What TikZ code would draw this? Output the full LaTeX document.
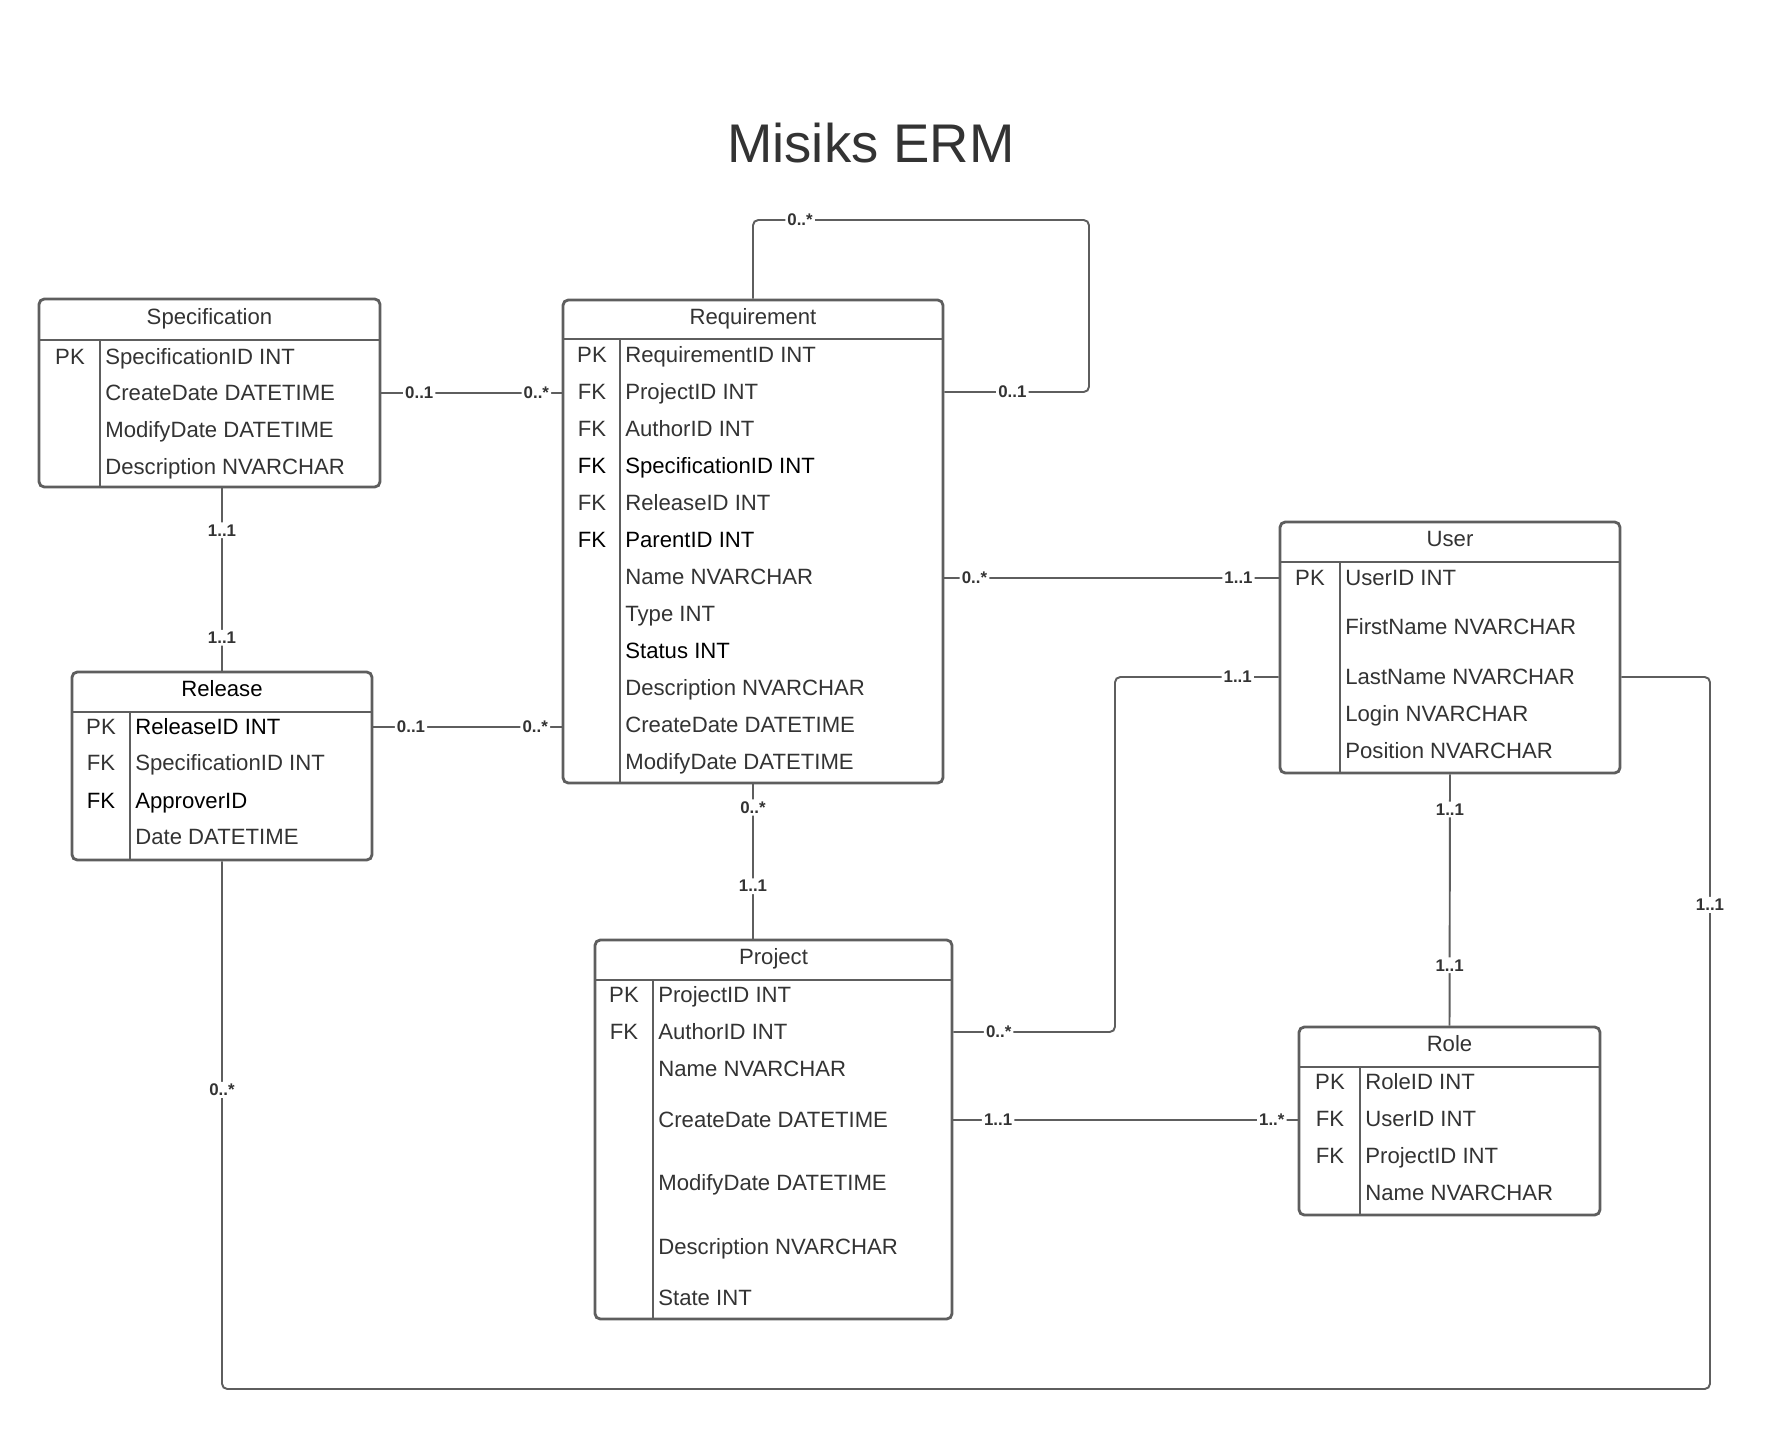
\documentclass[tikz,border=0pt]{standalone}
\usepackage{fontspec}
\setmainfont{Liberation Sans}
\usepackage{tikz}
\usetikzlibrary{fit}
\definecolor{inkgray}{HTML}{333333}
\definecolor{edgegray}{HTML}{5E5E5E}
\tikzset{
  entbox/.style   = {draw=edgegray, line width=1.6pt, rounded corners=3pt, inner sep=0pt},
  entline/.style  = {edgegray, line width=1.6pt},
  headtxt/.style  = {inner sep=0pt, text height=9pt, text depth=0pt, font=\fontsize{12.6}{14}\selectfont},
  keytxt/.style   = {inner sep=0pt, text height=9pt, text depth=0pt, font=\fontsize{12.6}{14}\selectfont},
  coltxt/.style   = {anchor=west, inner sep=0pt, text height=9pt, text depth=0pt, font=\fontsize{12.6}{14}\selectfont},
  relline/.style  = {edgegray, line width=1.1pt, rounded corners=3pt},
  mult/.style     = {fill=white, inner sep=1.2pt, text=inkgray, font=\bfseries\fontsize{9.6}{11}\selectfont},
  titletxt/.style = {inner sep=0pt, text height=22.2pt, text depth=0pt, text=inkgray, font=\fontsize{31}{36}\selectfont}
}
% #1 title colour, #2 name, #3 title, #4-#7 left/top/right/bottom, #8 header line, #9 key divider
\newcommand{\entity}[9][inkgray]{%
  \node[entbox, fit={(#4,#5) (#6,#7)}] (#2) {};
  \draw[entline] (#4,#8) -- (#6,#8);
  \draw[entline] (#9,#8) -- (#9,#7);
  \node[headtxt, text=#1] (#2-title) at ({(#4+#6)/2},{(#5+#8)/2-3}) {#3};
}
% #1 colour, #2 name, #3 key x, #4 column x, #5 y, #6 key, #7 column
\newcommand{\field}[7][inkgray]{%
  \node[keytxt, text=#1] (#2-k) at (#3,#5) {#6};
  \node[coltxt, text=#1] (#2) at (#4,#5) {#7};
}

\begin{document}
\begin{tikzpicture}[x=0.02cm, y=-0.02cm]
  \useasboundingbox[fill=white] (0,0) rectangle (1765,1431);
  \node[titletxt] (title) at (871,143) {Misiks ERM};

  % tables
  \entity{spec}{Specification}{39}{299}{380}{487}{340}{100}
  \field{spec-1}{70}{105}{357}{PK}{SpecificationID INT}
  \field{spec-2}{70}{105}{393}{}{CreateDate DATETIME}
  \field{spec-3}{70}{105}{430}{}{ModifyDate DATETIME}
  \field{spec-4}{70}{105}{467}{}{Description NVARCHAR}

  \entity{req}{Requirement}{563}{300}{943}{783}{339}{620}
  \field{req-1}{592}{625}{355}{PK}{RequirementID INT}
  \field{req-2}{592}{625}{392}{FK}{ProjectID INT}
  \field{req-3}{592}{625}{429}{FK}{AuthorID INT}
  \field[black]{req-4}{592}{625}{466}{FK}{SpecificationID INT}
  \field{req-5}{592}{625}{503}{FK}{ReleaseID INT}
  \field[black]{req-6}{592}{625}{540}{FK}{ParentID INT}
  \field{req-7}{592}{625}{577}{}{Name NVARCHAR}
  \field{req-8}{592}{625}{614}{}{Type INT}
  \field[black]{req-9}{592}{625}{651}{}{Status INT}
  \field{req-10}{592}{625}{688}{}{Description NVARCHAR}
  \field{req-11}{592}{625}{725}{}{CreateDate DATETIME}
  \field{req-12}{592}{625}{762}{}{ModifyDate DATETIME}

  \entity{user}{User}{1280}{522}{1620}{773}{562}{1340}
  \field{user-1}{1310}{1345}{578}{PK}{UserID INT}
  \field{user-2}{1310}{1345}{627}{}{FirstName NVARCHAR}
  \field{user-3}{1310}{1345}{677}{}{LastName NVARCHAR}
  \field{user-4}{1310}{1345}{714}{}{Login NVARCHAR}
  \field{user-5}{1310}{1345}{751}{}{Position NVARCHAR}

  \entity[black]{rel}{Release}{72}{672}{372}{860}{712}{130}
  \field{rel-1}{101}{135}{727}{PK}{\textcolor{black}{ReleaseID INT}}
  \field{rel-2}{101}{135}{763}{FK}{SpecificationID INT}
  \field[black]{rel-3}{101}{135}{801}{FK}{ApproverID}
  \field{rel-4}{101}{135}{837}{}{Date DATETIME}

  \entity{proj}{Project}{595}{940}{952}{1319}{980}{653}
  \field{proj-1}{624}{658}{995}{PK}{ProjectID INT}
  \field{proj-2}{624}{658}{1032}{FK}{AuthorID INT}
  \field{proj-3}{624}{658}{1069}{}{Name NVARCHAR}
  \field{proj-4}{624}{658}{1120}{}{CreateDate DATETIME}
  \field{proj-5}{624}{658}{1183}{}{ModifyDate DATETIME}
  \field{proj-6}{624}{658}{1247}{}{Description NVARCHAR}
  \field{proj-7}{624}{658}{1298}{}{State INT}

  \entity{role}{Role}{1299}{1027}{1600}{1215}{1067}{1360}
  \field{role-1}{1330}{1365}{1082}{PK}{RoleID INT}
  \field{role-2}{1330}{1365}{1119}{FK}{UserID INT}
  \field{role-3}{1330}{1365}{1156}{FK}{ProjectID INT}
  \field{role-4}{1330}{1365}{1193}{}{Name NVARCHAR}

  % relations
  \draw[relline] (spec.east |- spec-2) -- node[mult,pos=.21]{0..1} node[mult,pos=.86]{0..*} (req.west |- spec-2);
  \draw[relline] (rel.north |- spec.south) -- node[mult,pos=.23]{1..1} node[mult,pos=.82]{1..1} (rel.north);
  \draw[relline] (rel.east |- rel-1) -- node[mult,pos=.20]{0..1} node[mult,pos=.86]{0..*} (req.west |- rel-1);

  % parent requirement
  \coordinate (loop-a) at (753,220);
  \coordinate (loop-b) at (1089,220);
  \draw[relline] (req.north) -- (loop-a) -- node[mult,pos=.14]{0..*} (loop-b)
    -- (loop-b |- req-2) -- node[mult,pos=.53]{0..1} (req.east |- req-2);

  \draw[relline] (req.east |- user-1) -- node[mult,pos=.09]{0..*} node[mult,pos=.88]{1..1} (user.west |- user-1);

  \coordinate (up-x) at (1115,0);
  \draw[relline] (user.west |- user-3) -- node[mult,pos=.25]{1..1} (up-x |- user-3)
    -- (up-x |- proj-2) -- node[mult,pos=.72]{0..*} (proj.east |- proj-2);

  \draw[relline] (req.south) -- node[mult,pos=.15]{0..*} node[mult,pos=.66]{1..1} (req.south |- proj.north);
  \draw[relline] (user.south) -- node[mult,pos=.14]{1..1} node[mult,pos=.76]{1..1} (role.north);
  \draw[relline] (proj.east |- proj-4) -- node[mult,pos=.13]{1..1} node[mult,pos=.925]{1..*} (role.west |- proj-4);

  % approver of a release
  \coordinate (ur-a) at (1710,1389);
  \draw[relline] (user.east |- user-3) -- (ur-a |- user-3) -- node[mult,pos=.32]{1..1} (ur-a)
    -- (rel.south |- ur-a) -- node[mult,pos=.567]{0..*} (rel.south);
\end{tikzpicture}
\end{document}
